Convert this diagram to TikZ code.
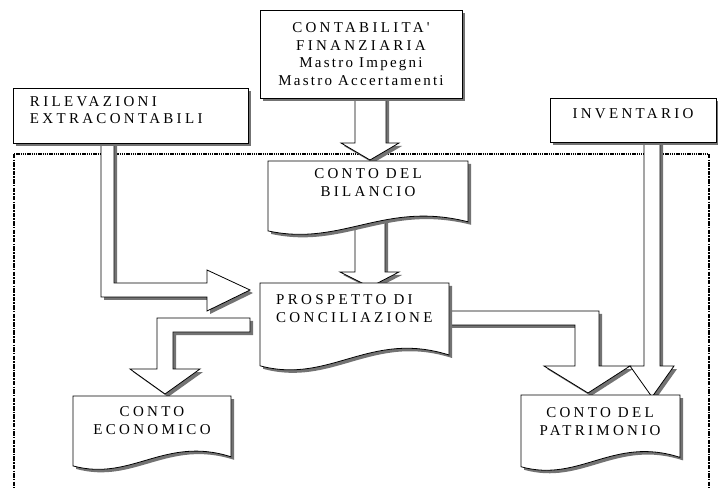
\documentclass[tikz,border=0pt]{standalone}
\usepackage{fontspec}
\newfontfamily\boxfont[LetterSpace=22]{Liberation Serif}
\newcommand{\lowsp}{\addfontfeature{LetterSpace=15}}
\usetikzlibrary{shadows,calc}

\tikzset{
  greyshadow/.style={drop shadow={shadow xshift=3pt,shadow yshift=-3pt,fill=black!55,opacity=1}},
  box/.style={draw, fill=white, line width=0.8pt, greyshadow,
    font=\boxfont\fontsize{15}{17.5}\selectfont},
  doctext/.style={inner sep=0pt, font=\boxfont\fontsize{15}{18.5}\selectfont},
  docshape/.style={draw, fill=white, line width=0.8pt, greyshadow},
  blockarrow/.style={draw, fill=white, line width=0.8pt, line join=miter, greyshadow},
  frametop/.style={line width=1.3pt, dash pattern=on 1.3pt off 0.9pt},
  frameside/.style={line width=1.3pt, dash pattern=on 4.5pt off 1.2pt on 1.5pt off 1.2pt}
}

% left, right, top, height
\newcommand{\docoutline}[4]{(#1,#3) -- (#2,#3) -- (#2,{#3-0.8*#4})
  .. controls ({#1+0.58*(#2-#1)},{#3-0.52*#4}) and ({#1+0.37*(#2-#1)},{#3-1.13*#4}) .. (#1,{#3-0.92*#4}) -- cycle}

\begin{document}
\begin{tikzpicture}[x=1pt, y=1pt]
    \useasboundingbox (0,0) rectangle (718,488);

    \draw[frametop] (14,334) -- (709,334);
    \draw[frameside] (14,334) -- (14,0);
    \draw[frameside] (709,334) -- (709,0);

    % block arrows
    \draw[blockarrow] (355,395) -- (355,345) -- (341,345) -- (370,328) -- (399,345) -- (386,345) -- (386,395) -- cycle;
    \draw[blockarrow] (355,270) -- (355,216) -- (340,216) -- (370,201) -- (399,216) -- (385,216) -- (385,270) -- cycle;
    \draw[blockarrow] (101,350) -- (101,191) -- (207,191) -- (207,177) -- (250,198) -- (207,218) -- (207,205) -- (114,205) -- (114,350) -- cycle;
    \draw[blockarrow] (250,170) -- (157,170) -- (157,119) -- (130,119) -- (165,94) -- (200,119) -- (173,119) -- (173,156) -- (250,156) -- cycle;
    \draw[blockarrow] (445,177) -- (599,177) -- (599,122) -- (630,122) -- (588,95) -- (544,122) -- (575,122) -- (575,163) -- (445,163) -- cycle;
    \draw[blockarrow] (644,350) -- (644,122) -- (630,122) -- (652,91) -- (674,122) -- (660,122) -- (660,350) -- cycle;

    % boxes
    \node[box, minimum width=202pt, minimum height=88pt, align=center] (conta) at (361,434)
        {CONTABILITA'\\FINANZIARIA\\{\lowsp Mastro Impegni}\\{\lowsp Mastro Accertamenti}};
    \node[box, minimum height=55pt, inner xsep=17pt, text width=201pt, align=left,
        font=\boxfont\fontsize{15}{16.5}\selectfont] (rilev) at (130.5,372.5)
        {RILEVAZIONI\\EXTRACONTABILI\rule[-10.5pt]{0pt}{10.5pt}};
    \node[box, minimum width=166pt, minimum height=44pt, text depth=12pt] (inve) at (633,368) {INVENTARIO};

    % documents
    \draw[docshape] \docoutline{268}{468}{327}{76};
    \node[doctext, anchor=north, align=center] (bilancio) at (368,320) {CONTO DEL\\BILANCIO};
    \draw[docshape] \docoutline{260}{449}{205}{90};
    \node[doctext, anchor=north west, align=left] (prospetto) at (276,194) {PROSPETTO DI\\CONCILIAZIONE};
    \draw[docshape] \docoutline{73}{231}{92}{76};
    \node[doctext, anchor=north, align=center] (economico) at (152,82) {CONTO\\ECONOMICO};
    \draw[docshape] \docoutline{521}{680}{93}{78};
    \node[doctext, anchor=north, align=center] (patrimonio) at (600,81) {CONTO DEL\\PATRIMONIO};

\end{tikzpicture}
\end{document}
